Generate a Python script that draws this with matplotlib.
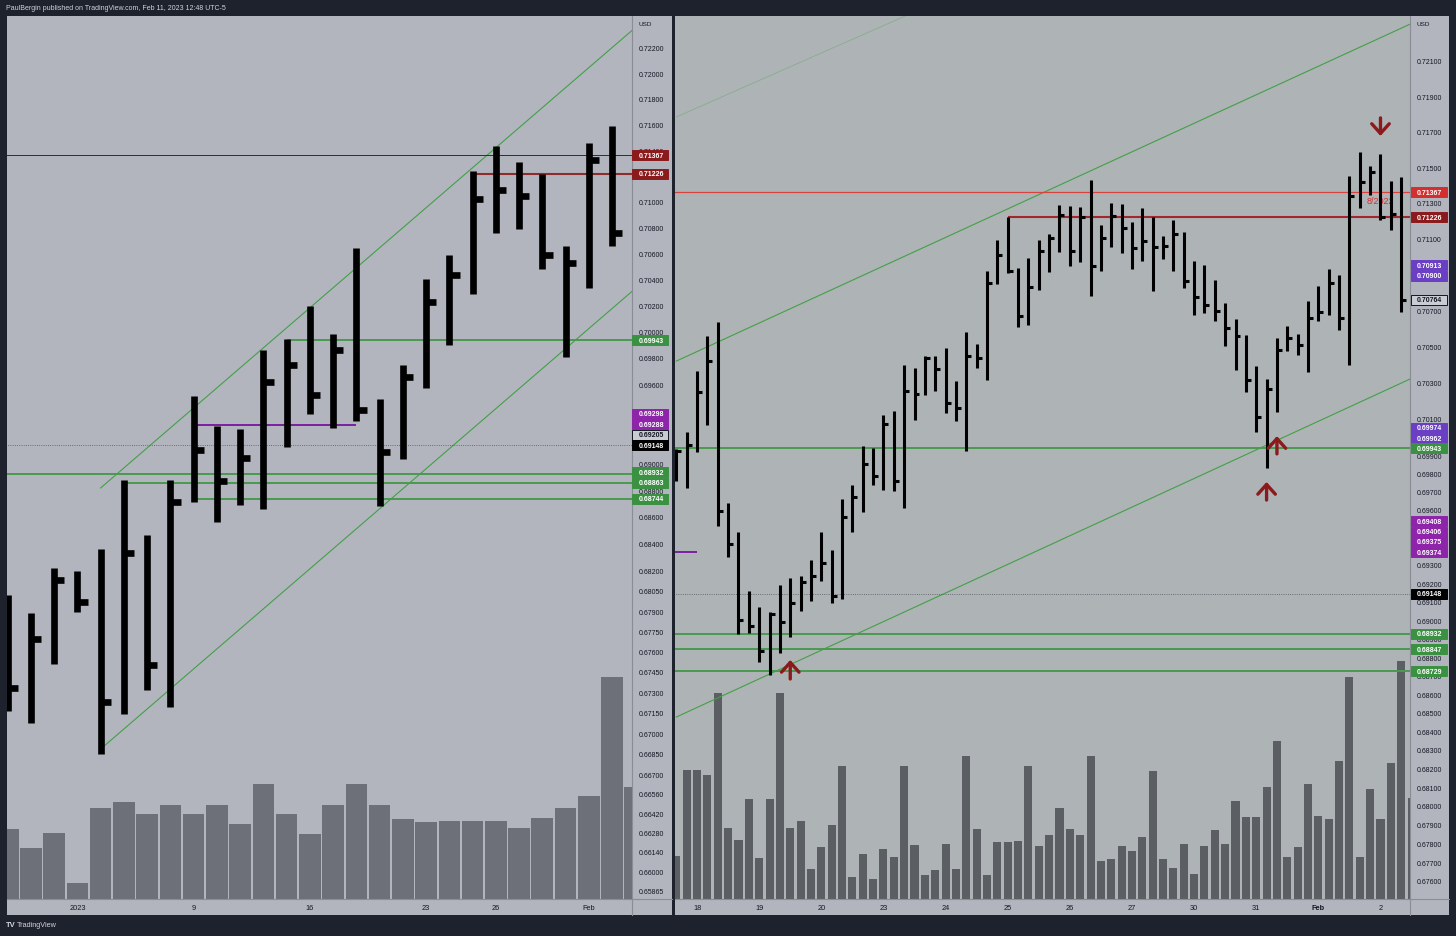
import matplotlib
matplotlib.use('Agg')
import numpy as np
import matplotlib.pyplot as plt
from matplotlib import patches, transforms

W, H = 1456, 937
plt.rcParams['font.family'] = ['Liberation Sans', 'DejaVu Sans']

BG = '#1e222d'
PANE = '#b2b5be'
TXT = '#131722'
FS = 5

# ---------------- left pane: AUDUSD daily, 28 Dec 2022 .. 2 Feb 2023 (HLC bars)
d_high = [0.68026, 0.67893, 0.68227, 0.68204, 0.68368, 0.68885, 0.68473, 0.68885, 0.69519,
          0.69292, 0.69269, 0.69868, 0.69952, 0.70204, 0.69990, 0.70650, 0.69496, 0.69754,
          0.70412, 0.70596, 0.71246, 0.71440, 0.71316, 0.71222, 0.70665, 0.71464, 0.71596]
d_low = [0.67171, 0.67083, 0.67516, 0.67900, 0.66857, 0.67149, 0.67325, 0.67200, 0.68720,
         0.68570, 0.68697, 0.68667, 0.69133, 0.69382, 0.69277, 0.69329, 0.68690, 0.69043,
         0.69579, 0.69906, 0.70296, 0.70766, 0.70796, 0.70488, 0.69815, 0.70342, 0.70665]
d_close = [0.67340, 0.67701, 0.68138, 0.67974, 0.67237, 0.68338, 0.67509, 0.68720, 0.69110,
           0.68877, 0.69050, 0.69625, 0.69754, 0.69526, 0.69868, 0.69413, 0.69095, 0.69663,
           0.70235, 0.70442, 0.71029, 0.71098, 0.71052, 0.70596, 0.70534, 0.71331, 0.70764]
# volume has one more (just opened) bar than the visible price bars
d_vol = [70, 51, 66, 16, 91, 97, 85, 94, 85, 94, 75, 115, 85, 65, 94, 115, 94, 80,
         77, 78, 78, 78, 71, 81, 91, 103, 222, 112]
d_date_idx = [3, 8, 13, 18, 21, 25]
d_date_lbl = ['2023', '9', '16', '23', '26', 'Feb']
d_ticks = [0.722, 0.720, 0.718, 0.716, 0.714, 0.710, 0.708, 0.706, 0.704, 0.702,
           0.700, 0.698, 0.696, 0.690, 0.688, 0.686, 0.684, 0.682, 0.6805, 0.679, 0.6775,
           0.676, 0.6745, 0.673, 0.6715, 0.670, 0.6685, 0.667, 0.6656, 0.6642, 0.6628,
           0.6614, 0.660, 0.65865]

# ---------------- right pane: AUDUSD 4h, 17 Jan .. 2 Feb 2023
h_high = [0.69940, 0.70032, 0.70372, 0.70566, 0.70640, 0.69642, 0.69484, 0.69162, 0.69075,
          0.69048, 0.69196, 0.69233, 0.69244, 0.69334, 0.69484, 0.69387, 0.69666, 0.69742,
          0.69955, 0.69944, 0.70129, 0.70147, 0.70405, 0.70385, 0.70455, 0.70455, 0.70496,
          0.70313, 0.70584, 0.70520, 0.70927, 0.71098, 0.71226, 0.70942, 0.70996, 0.71098,
          0.71132, 0.71294, 0.71287, 0.71285, 0.71433, 0.71182, 0.71304, 0.71300, 0.71197,
          0.71277, 0.71225, 0.71122, 0.71210, 0.71145, 0.70983, 0.70961, 0.70875, 0.70747,
          0.70658, 0.70570, 0.70399, 0.70326, 0.70553, 0.70621, 0.70575, 0.70757, 0.70844,
          0.70937, 0.70903, 0.71459, 0.71590, 0.71515, 0.71580, 0.71427, 0.71450]
h_low = [0.69766, 0.69726, 0.69925, 0.70072, 0.69520, 0.69347, 0.68930, 0.68934, 0.68781,
         0.68710, 0.68827, 0.68913, 0.69057, 0.69108, 0.69217, 0.69099, 0.69120, 0.69484,
         0.69596, 0.69742, 0.69717, 0.69711, 0.69615, 0.70100, 0.70237, 0.70261, 0.70137,
         0.70096, 0.69931, 0.70385, 0.70322, 0.70853, 0.70914, 0.70612, 0.70625, 0.70820,
         0.70918, 0.71033, 0.70952, 0.70977, 0.70788, 0.70927, 0.71057, 0.71024, 0.70937,
         0.70983, 0.70816, 0.70992, 0.70927, 0.70829, 0.70680, 0.70692, 0.70646, 0.70507,
         0.70378, 0.70252, 0.70035, 0.69834, 0.70145, 0.70482, 0.70460, 0.70363, 0.70649,
         0.70680, 0.70599, 0.70405, 0.71277, 0.71350, 0.71210, 0.71156, 0.70699]
h_close = [0.69931, 0.69962, 0.70256, 0.70425, 0.69598, 0.69420, 0.69008, 0.68972, 0.68837,
           0.69039, 0.68994, 0.69099, 0.69211, 0.69247, 0.69316, 0.69135, 0.69569, 0.69675,
           0.69858, 0.69793, 0.70078, 0.69763, 0.70261, 0.70241, 0.70442, 0.70381, 0.70193,
           0.70164, 0.70455, 0.70440, 0.70857, 0.71015, 0.70927, 0.70677, 0.70835, 0.71039,
           0.71108, 0.71238, 0.71037, 0.71229, 0.70952, 0.71111, 0.71234, 0.71164, 0.71052,
           0.71094, 0.71061, 0.71063, 0.71132, 0.70871, 0.70779, 0.70738, 0.70704, 0.70608,
           0.70566, 0.70320, 0.70118, 0.70271, 0.70488, 0.70551, 0.70514, 0.70662, 0.70695,
           0.70859, 0.70664, 0.71343, 0.71425, 0.71481, 0.71225, 0.71244, 0.70764]
h_vol = [43, 129, 129, 124, 206, 71, 59, 100, 41, 100, 206, 71, 78, 30, 52, 74, 133, 22,
         45, 20, 50, 42, 133, 54, 24, 29, 55, 30, 143, 70, 24, 57, 57, 58, 133, 53, 64,
         91, 70, 64, 143, 38, 40, 53, 48, 62, 128, 40, 31, 55, 25, 53, 69, 55, 98, 82,
         82, 112, 158, 42, 52, 115, 83, 80, 138, 222, 42, 110, 80, 136, 238, 101]
h_date_idx = [2, 8, 14, 20, 26, 32, 38, 44, 50, 56, 62, 68]
h_date_lbl = ['18', '19', '20', '23', '24', '25', '26', '27', '30', '31', 'Feb', '2']
h_ticks = [0.721, 0.719, 0.717, 0.715, 0.713, 0.711, 0.707, 0.705, 0.703, 0.701, 0.699,
           0.698, 0.697, 0.696, 0.693, 0.692, 0.691, 0.690, 0.689, 0.688, 0.687, 0.686,
           0.685, 0.684, 0.683, 0.682, 0.681, 0.680, 0.679, 0.678, 0.677, 0.676]

# drawn levels: (price, start bar, end bar or None, colour, width, style)
d_levels = [(0.71367, None, None, '#2a2e39', 0.7, '-'),
            (0.71226, 20.1, None, '#8e2b2d', 1.5, '-'),
            (0.69943, 12, None, '#4a994f', 1.4, '-'),
            (0.69298, 8.15, 15, '#7b1fa2', 1.4, '-'),
            (0.69148, None, None, '#50535e', 0.6, ':'),
            (0.68932, None, None, '#4a994f', 1.4, '-'),
            (0.68863, 5.15, None, '#4a994f', 1.4, '-'),
            (0.68744, 8.15, None, '#4a994f', 1.4, '-')]
h_levels = [(0.71367, None, None, '#d9433e', 0.9, '-'),
            (0.71226, 32, None, '#a3282d', 1.5, '-'),
            (0.69943, None, None, '#4a994f', 1.4, '-'),
            (0.69375, None, 2, '#7b1fa2', 1.4, '-'),
            (0.69148, None, None, '#50535e', 0.6, ':'),
            (0.68932, None, None, '#4a994f', 1.4, '-'),
            (0.68847, None, None, '#4a994f', 1.4, '-'),
            (0.68729, None, None, '#4a994f', 1.4, '-')]

# trend channels: two anchor points (bar, price) per line
d_channel = [((4.0, 0.68825), (20.0, 0.71271)),
             ((4.0, 0.66893), (20.0, 0.69271))]
h_channel = [((0.0, 0.70425), (60.0, 0.72022)),
             ((0.0, 0.68482), (60.0, 0.70040))]
h_faint = [((0.0, 0.71789), (22.1, 0.72361))]

# price tags on the scales: (price, face, text, edge)
PURP = '#8e24aa'
VIOL = '#6a3fc4'
GRN = '#3b9142'
d_tags = [(0.71367, '#8b1a1d', 'white', '#8b1a1d'), (0.71226, '#8b1a1d', 'white', '#8b1a1d'),
          (0.69943, GRN, 'white', GRN), (0.69298, PURP, 'white', PURP),
          (0.69288, PURP, 'white', PURP), (0.69205, '#c9ccd3', TXT, '#131722'),
          (0.69148, '#000000', 'white', '#000000'), (0.68932, GRN, 'white', GRN),
          (0.68863, GRN, 'white', GRN), (0.68744, GRN, 'white', GRN)]
h_tags = [(0.71367, '#d32f2f', 'white', '#d32f2f'), (0.71226, '#8b1a1d', 'white', '#8b1a1d'),
          (0.70913, VIOL, 'white', VIOL), (0.70900, VIOL, 'white', VIOL),
          (0.70764, '#c9ccd3', TXT, '#131722'),
          (0.69974, VIOL, 'white', VIOL), (0.69962, VIOL, 'white', VIOL),
          (0.69943, GRN, 'white', GRN),
          (0.69408, PURP, 'white', PURP), (0.69406, PURP, 'white', PURP),
          (0.69375, PURP, 'white', PURP), (0.69374, PURP, 'white', PURP),
          (0.69148, '#000000', 'white', '#000000'), (0.68932, GRN, 'white', GRN),
          (0.68847, GRN, 'white', GRN), (0.68729, GRN, 'white', GRN)]

# arrows on the 4h pane: (bar, tail price, tip price)
h_arrows = [(11, 0.68687, 0.68790), (57, 0.69660, 0.69759),
            (58, 0.69913, 0.70011), (68, 0.71784, 0.71682)]

fig = plt.figure(figsize=(W / 100, H / 100), dpi=100, facecolor=BG)


def px_axes(x0, y0, x1, y1, **kw):
    return fig.add_axes([x0 / W, 1 - y1 / H, (x1 - x0) / W, (y1 - y0) / H], **kw)


def clean(a):
    a.tick_params(which='both', left=False, right=False, top=False, bottom=False,
                  labelleft=False, labelbottom=False)
    for s in a.spines.values():
        s.set_visible(False)


def pane(x0, x1, px1, xlim, ylim, bg):
    vax = px_axes(x0, 17, x1, 900, facecolor=bg)
    ax = px_axes(x0, 17, x1, 900, sharex=vax)
    ax.patch.set_visible(False)
    ax.set_yscale('log')
    ax.set_ylim(*ylim)
    ax.set_xlim(*xlim)
    pax = px_axes(x1, 17, px1, 900, facecolor=PANE, sharey=ax)
    sax = px_axes(x0, 900, x1, 916, facecolor=PANE, sharex=ax)
    cax = px_axes(x1, 900, px1, 916, facecolor=PANE)
    for a in (vax, ax, pax, sax, cax):
        clean(a)
    for a, sides in ((pax, ('left',)), (sax, ('top',)), (cax, ('left', 'top'))):
        for s in sides:
            a.spines[s].set_visible(True)
            a.spines[s].set_color('#8a8d96')
    return vax, ax, pax, sax


def hlc(ax, high, low, close, lw, tick):
    x = np.arange(len(high))
    ax.vlines(x, low, high, color='black', lw=lw, capstyle='butt', zorder=5)
    ax.hlines(close, x, x + tick, color='black', lw=lw, capstyle='butt', zorder=5)


def levels(ax, lv, xmax):
    for p, a, b, c, lw, ls in lv:
        a = -5 if a is None else a
        b = xmax + 5 if b is None else b
        ax.plot([a, b], [p, p], color=c, lw=lw, ls=ls, zorder=3, solid_capstyle='butt')


def channel(ax, lines, x_end, color, lw, alpha=1.0):
    for (xa, pa), (xb, pb) in lines:
        # straight line on a log axis: extend in log space
        slope = (np.log(pb) - np.log(pa)) / (xb - xa)
        xs = np.array([xa, x_end])
        ax.plot(xs, np.exp(np.log(pa) + slope * (xs - xa)), color=color, lw=lw,
                alpha=alpha, zorder=2)


def price_scale(pax, ticks, xpos):
    tr = pax.get_yaxis_transform()
    pax.text(xpos, 0.9915, 'USD', transform=pax.transAxes, fontsize=4.6, color=TXT, va='center')
    for t in ticks:
        pax.text(xpos, t, f'{t:.5f}', transform=tr, fontsize=FS, color=TXT, va='center')


def date_scale(sax, idx, lbl, bold=()):
    tr = sax.get_xaxis_transform()
    for i, s in zip(idx, lbl):
        sax.text(i, 0.45, s, transform=tr, fontsize=5.3, color=TXT, ha='center', va='center',
                 fontweight='bold' if s in bold else 'normal')


def tags(ax, x_left, text_x, items):
    ys = [ax.transData.transform((0, p))[1] for p, *_ in items]
    order = np.argsort(ys)
    placed, last = {}, -1e9
    for k in order:
        y = max(ys[k], last + 10.4)
        placed[k] = y
        last = y
    ident = transforms.IdentityTransform()
    for k, (p, face, fg, edge) in enumerate(items):
        y = placed[k]
        fig.add_artist(patches.Rectangle((x_left, y - 5), 36, 10, transform=ident,
                                         facecolor=face, edgecolor=edge, lw=0.7, zorder=10))
        fig.text(text_x, y, f'{p:.5f}', transform=ident, fontsize=FS, color=fg,
                 fontweight='bold', va='center', ha='left', zorder=11)


# ---------------- left pane
d_xlim = (-0.03, 26.86)
vl, al, pl, sl = pane(7, 632, 672, d_xlim, (0.658076, 0.724603), PANE)
vl.bar(np.arange(len(d_vol)), d_vol, width=0.93, color='#6d7079')
vl.set_ylim(0, 883)
levels(al, d_levels, 30)
channel(al, d_channel, 30, '#43a047', 0.8)
hlc(al, d_high, d_low, d_close, 4.8, 0.44)
price_scale(pl, d_ticks, 0.17)
date_scale(sl, d_date_idx, d_date_lbl)

# ---------------- right pane
h_xlim = (-0.13, 70.85)
vr, ar, pr, sr = pane(675, 1410, 1449, h_xlim, (0.675095, 0.723611), '#aeb3b5')
vr.bar(np.arange(len(h_vol)), h_vol, width=0.78, color='#5b5e62')
vr.set_ylim(0, 883)
levels(ar, h_levels, 75)
channel(ar, h_channel, 75, '#43a047', 0.8)
channel(ar, h_faint, 40, '#43a047', 0.6, alpha=0.35)
hlc(ar, h_high, h_low, h_close, 2.2, 0.48)
ar.text(66.7, 0.71317, '8/2022', color='#d32f2f', fontsize=6.5, va='center', ha='left', zorder=4)
for x, p0, p1 in h_arrows:
    ar.annotate('', xy=(x, p1), xytext=(x, p0), zorder=6,
                arrowprops=dict(arrowstyle='->,head_length=0.5,head_width=0.45',
                                color='#8b1a1d', lw=2.4, mutation_scale=14,
                                shrinkA=0, shrinkB=0))
price_scale(pr, h_ticks, 0.17)
date_scale(sr, h_date_idx, h_date_lbl, bold=('Feb',))

tags(al, 632, 639, d_tags)
tags(ar, 1411, 1417, h_tags)

fig.text(6 / W, 1 - 9 / H, 'PaulBergin published on TradingView.com, Feb 11, 2023 12:48 UTC-5',
         color='#d1d4dc', fontsize=5, va='center', ha='left')
fig.text(6 / W, 1 - 926 / H, 'TV', color='#d1d4dc', fontsize=5.5, fontweight='bold',
         va='center', ha='left')
fig.text(17 / W, 1 - 926 / H, 'TradingView', color='#d1d4dc', fontsize=5.2,
         va='center', ha='left')

fig.savefig('out.png', dpi=100, facecolor=BG)
